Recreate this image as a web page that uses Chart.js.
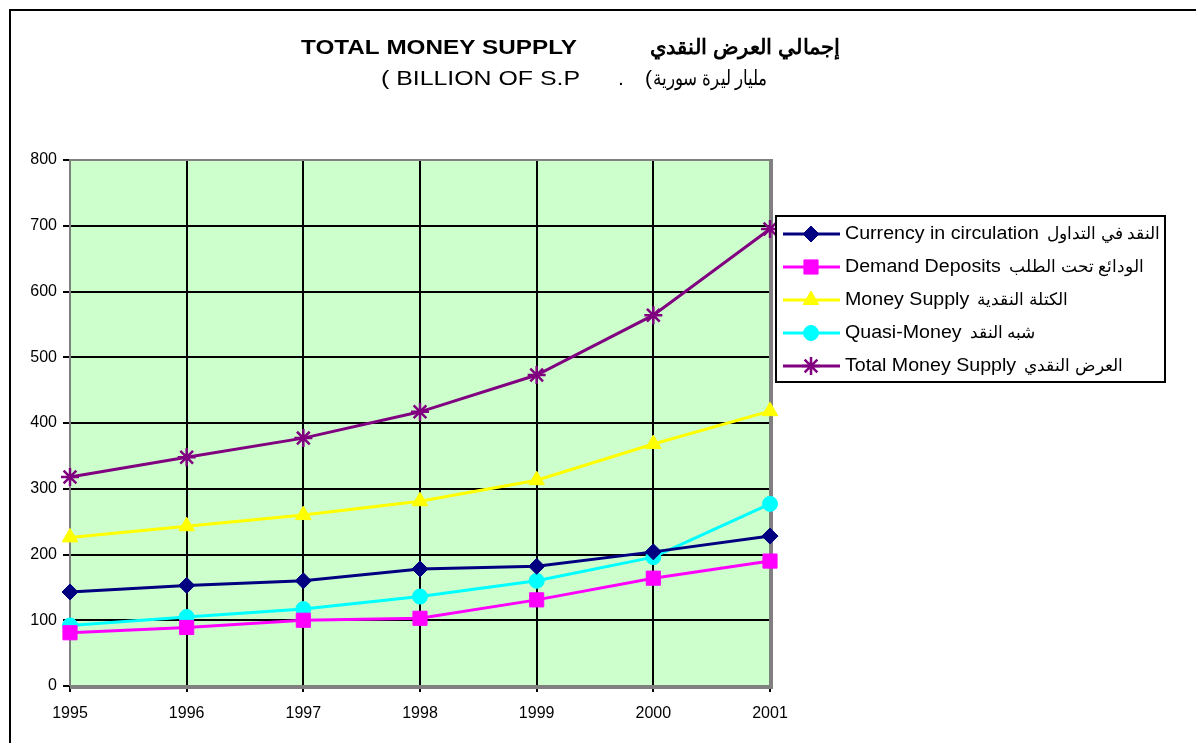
<!DOCTYPE html>
<html>
<head>
<meta charset="utf-8">
<script src="https://cdn.jsdelivr.net/npm/chart.js@4/dist/chart.umd.min.js"></script>
<style>
  html, body { margin: 0; padding: 0; background: #fff; }
  #wrap { width: 1196px; height: 743px; position: relative; }
</style>
</head>
<body>
<div id="wrap"><canvas id="myChart" width="1196" height="743"></canvas></div>
<script>
const years = ["1995", "1996", "1997", "1998", "1999", "2000", "2001"];
const currency = [143, 153, 160, 178, 182, 204, 228];
const demand = [81, 89, 100, 103, 131, 164, 190];
const moneySupply = [226, 243, 260, 281, 313, 368, 418];
const quasiMoney = [92, 105, 117, 136, 160, 196, 277];
const totalSupply = [318, 348, 377, 417, 473, 564, 695];
const yTicks = [0, 100, 200, 300, 400, 500, 600, 700, 800];

const seriesEn = ["Currency in circulation", "Demand Deposits", "Money Supply", "Quasi-Money", "Total Money Supply"];
const seriesAr = ["النقد في التداول", "الودائع تحت الطلب", "الكتلة النقدية", "شبه النقد", "العرض النقدي"];

const FONT = "'Liberation Sans', Arial, sans-serif";

function ds(i, values, color, style, radius) {
  return {
    label: seriesEn[i],
    data: values,
    borderColor: color,
    backgroundColor: color,
    borderWidth: 3,
    pointStyle: style,
    pointRadius: radius,
    pointHoverRadius: radius,
    pointBorderWidth: style === "star" ? 2.5 : 1,
    tension: 0,
    fill: false,
  };
}

const data = {
  labels: years,
  datasets: [
    ds(0, currency, "#000080", "rectRot", 8),
    ds(1, demand, "#FF00FF", "rect", 10),
    ds(2, moneySupply, "#FFFF00", "triangle", 9),
    ds(3, quasiMoney, "#00FFFF", "circle", 7.5),
    ds(4, totalSupply, "#800080", "star", 9),
  ],
};

// draw text stretched horizontally so it spans x0..x1
function fitText(ctx, text, x0, x1, y, dir) {
  ctx.save();
  ctx.direction = dir || "ltr";
  ctx.textAlign = "left";
  const w = ctx.measureText(text).width;
  ctx.translate(x0, y);
  ctx.scale((x1 - x0) / w, 1);
  ctx.fillText(text, 0, 0);
  ctx.restore();
}

// background, frame, title and custom legend
const decor = {
  id: "decor",
  beforeDraw(chart) {
    const ctx = chart.ctx;
    const a = chart.chartArea;
    ctx.save();
    ctx.fillStyle = "#fff";
    ctx.fillRect(0, 0, chart.width, chart.height);
    ctx.strokeStyle = "#000";
    ctx.lineWidth = 2;
    ctx.strokeRect(10, 10, chart.width + 20, chart.height + 20);
    ctx.fillStyle = "#CCFFCC";
    ctx.fillRect(a.left, a.top, a.right - a.left, a.bottom - a.top);
    ctx.restore();
  },
  beforeDatasetsDraw(chart) {
    const ctx = chart.ctx;
    const a = chart.chartArea;
    ctx.save();
    ctx.strokeStyle = "#808080";
    ctx.lineWidth = 2;
    ctx.beginPath();
    ctx.moveTo(a.left, a.bottom);
    ctx.lineTo(a.left, a.top);
    ctx.lineTo(a.right, a.top);
    ctx.stroke();
    ctx.lineWidth = 4;
    ctx.beginPath();
    ctx.moveTo(a.right + 1, a.top - 1);
    ctx.lineTo(a.right + 1, a.bottom + 1);
    ctx.lineTo(a.left, a.bottom + 1);
    ctx.stroke();
    ctx.restore();
  },
  afterDraw(chart) {
    const ctx = chart.ctx;
    ctx.save();
    ctx.fillStyle = "#000";
    ctx.textBaseline = "middle";

    // title line 1
    ctx.font = "bold 21px " + FONT;
    fitText(ctx, "TOTAL MONEY SUPPLY", 301, 577, 48);
    fitText(ctx, "إجمالي العرض النقدي", 650, 840, 48, "rtl");

    // title line 2
    ctx.font = "21px " + FONT;
    fitText(ctx, "( BILLION OF S.P", 381, 580, 79);
    ctx.direction = "ltr";
    ctx.textAlign = "left";
    ctx.fillText(".", 618, 79);
    ctx.fillText("(", 645, 79);
    fitText(ctx, "مليار ليرة سورية", 653, 767, 79, "rtl");

    // legend
    const lx = 776, ly = 216, lw = 389, lh = 166;
    ctx.fillStyle = "#fff";
    ctx.fillRect(lx, ly, lw, lh);
    ctx.strokeStyle = "#000";
    ctx.lineWidth = 2;
    ctx.strokeRect(lx, ly, lw, lh);
    ctx.font = "18px " + FONT;
    ctx.direction = "ltr";
    const sx = 194 / ctx.measureText(seriesEn[0]).width;
    chart.data.datasets.forEach((d, i) => {
      const y = 234 + i * 33;
      ctx.strokeStyle = d.borderColor;
      ctx.lineWidth = 3;
      ctx.beginPath();
      ctx.moveTo(783, y);
      ctx.lineTo(840, y);
      ctx.stroke();
      ctx.fillStyle = d.backgroundColor;
      ctx.strokeStyle = d.borderColor;
      ctx.lineWidth = d.pointBorderWidth;
      Chart.helpers.drawPoint(ctx, { pointStyle: d.pointStyle, radius: d.pointRadius, rotation: 0, borderWidth: d.pointBorderWidth }, 811, y);
      ctx.fillStyle = "#000";
      ctx.font = "18px " + FONT;
      const w = ctx.measureText(seriesEn[i]).width * sx;
      fitText(ctx, seriesEn[i], 845, 845 + w, y);
      ctx.font = "17px " + FONT;
      ctx.save();
      ctx.direction = "rtl";
      ctx.textAlign = "left";
      ctx.fillText(seriesAr[i], 845 + w + 8, y);
      ctx.restore();
    });
    ctx.restore();
  },
};

const config = {
  type: "line",
  data: data,
  plugins: [decor],
  options: {
    responsive: false,
    animation: false,
    events: [],
    layout: { padding: { left: 0, right: 426, top: 160, bottom: 0 } },
    plugins: {
      legend: { display: false },
      title: { display: false },
      tooltip: { enabled: false },
    },
    scales: {
      x: {
        offset: false,
        border: { display: false },
        grid: { color: "#000", lineWidth: 2, tickLength: 6, tickColor: "#000" },
        ticks: { color: "#000", font: { family: FONT, size: 16 }, padding: 12, maxRotation: 0 },
        afterFit(scale) { scale.height = 57; },
      },
      y: {
        min: 0,
        max: 800,
        border: { display: false },
        afterBuildTicks(scale) { scale.ticks = yTicks.map((v) => ({ value: v })); },
        grid: { color: "#000", lineWidth: 2, tickLength: 7, tickColor: "#000" },
        ticks: { color: "#000", font: { family: FONT, size: 16 }, padding: 6 },
        afterFit(scale) { scale.width = 70; },
      },
    },
  },
};

let myChart = new Chart(document.getElementById("myChart"), config);
</script>
</body>
</html>
